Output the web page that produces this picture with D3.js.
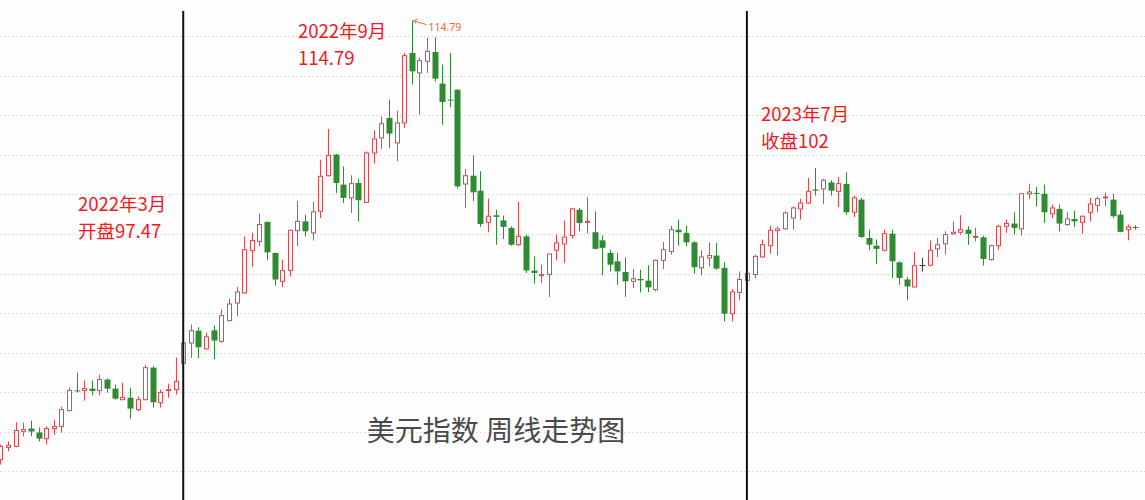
<!DOCTYPE html>
<html>
<head>
<meta charset="utf-8">
<script src="https://cdn.jsdelivr.net/npm/d3@7/dist/d3.min.js"></script>
<style>
  html, body { margin: 0; padding: 0; background: #fdfdfd; }
  svg { display: block; }
</style>
</head>
<body>
<svg id="chart" width="1145" height="500"></svg>
<script>
// Weekly US Dollar Index candles (about Sep 2021 – Jul 2024)
const openVals = [92.59,93.20,93.26,94.02,94.16,93.96,93.65,94.16,94.26,95.07,96.09,96.08,96.18,96.08,96.64,96.18,95.62,95.72,95.12,95.62,97.24,95.47,96.08,96.13,97.47,98.49,99.11,98.19,99.13,98.57,99.62,100.51,101.02,103.16,103.63,104.61,103.04,101.61,102.16,104.17,104.64,104.06,105.15,106.95,108.02,106.50,105.83,106.58,105.60,108.10,108.86,109.87,108.61,109.62,113.16,112.15,112.74,113.21,111.61,110.80,111.30,106.53,106.95,106.19,104.59,104.95,104.69,104.31,103.46,103.88,102.15,101.89,101.95,103.18,103.50,103.93,105.23,104.59,104.09,103.68,103.04,102.62,102.08,101.61,101.73,101.64,101.19,102.67,103.12,104.22,104.06,103.58,102.29,102.79,102.91,102.29,99.97,101.05,101.66,101.95,102.84,103.41,104.17,104.26,104.81,105.27,105.57,106.25,106.28,106.61,106.16,106.53,105.10,105.74,103.80,103.41,103.18,104.02,102.57,101.70,101.32,102.43,102.42,103.25,103.51,104.01,104.09,104.22,103.85,103.83,102.71,103.41,104.39,104.53,104.26,106.03,106.08,106.04,105.02,105.27,104.48,104.76,104.59,105.10,105.45,105.83,105.74,104.98,104.22,104.36];
const highVals = [93.35,93.51,94.48,94.46,94.56,94.21,94.27,94.61,95.27,96.23,96.99,96.59,96.59,96.89,96.69,96.38,96.48,96.23,95.79,97.39,97.31,96.13,96.43,97.75,98.56,99.42,99.28,99.01,99.38,100.18,100.73,101.32,103.88,104.06,105.03,104.64,103.07,102.71,104.22,105.66,104.98,105.62,107.76,109.32,108.05,107.42,106.97,106.79,108.18,109.25,109.95,110.80,110.24,113.16,114.79,112.92,113.92,113.95,112.57,113.16,111.32,107.29,107.97,107.17,105.79,105.23,104.93,104.39,105.62,103.97,102.87,102.45,102.99,103.97,104.68,105.32,105.32,105.88,105.15,103.93,103.21,103.04,102.82,102.23,102.20,102.42,102.71,103.60,104.42,104.73,104.42,103.63,103.18,103.58,103.55,102.57,101.22,102.11,102.05,102.96,103.72,104.42,104.39,105.15,105.40,105.78,106.84,107.34,106.79,106.72,106.89,107.12,105.94,105.83,104.22,103.72,104.22,104.22,102.62,101.83,103.09,102.79,103.68,103.80,104.14,104.64,104.95,104.39,104.31,103.92,103.46,104.48,104.73,105.10,106.08,106.55,106.38,106.50,105.49,105.49,105.10,105.18,104.93,105.83,105.91,106.11,106.04,105.18,104.48,104.44];
const lowVals = [92.34,93.01,93.22,93.77,93.77,93.51,93.35,93.85,93.96,95.03,95.99,95.57,95.84,95.84,95.98,95.62,95.60,94.66,95.03,95.60,95.22,95.22,95.72,95.88,97.39,97.73,97.73,98.15,97.68,98.49,99.58,99.84,100.99,102.34,103.38,102.67,101.39,101.31,101.86,103.38,103.88,103.67,104.81,106.92,106.08,105.57,105.07,104.64,105.57,107.56,108.31,108.36,107.68,109.37,111.56,110.04,112.15,111.72,109.53,110.41,106.30,105.32,105.66,104.36,104.09,103.46,103.75,103.41,103.41,102.03,101.49,101.53,100.82,102.67,102.54,103.77,104.14,104.02,103.21,101.91,102.11,101.44,100.82,101.27,101.05,101.05,101.10,102.23,102.96,103.41,103.38,101.99,101.91,102.37,102.20,99.58,99.58,100.65,101.61,101.78,102.79,103.01,102.92,104.22,104.22,104.73,105.52,105.94,105.52,105.94,105.37,104.98,104.86,103.80,103.18,102.49,103.12,101.78,101.44,100.65,101.30,102.11,102.37,102.83,102.96,103.97,103.97,103.46,103.63,102.40,102.65,103.21,104.06,103.97,103.92,105.78,105.40,104.56,104.81,104.14,104.42,104.36,104.02,104.64,105.10,105.40,104.81,104.09,103.68,104.22];
const closeVals = [93.26,93.31,94.06,94.11,94.01,93.65,94.16,94.26,95.12,96.09,96.04,96.18,96.06,96.64,96.18,95.67,95.74,95.17,95.62,97.24,95.49,95.99,96.13,96.55,98.49,99.11,98.27,98.80,98.61,99.87,100.46,101.07,103.21,103.67,104.48,103.07,101.70,102.15,104.19,104.64,104.14,105.12,106.92,107.98,106.58,105.83,106.55,105.71,108.10,108.81,109.58,109.08,109.62,113.02,112.23,112.77,113.24,111.86,110.68,110.76,106.41,106.95,106.11,104.51,104.90,104.87,104.36,103.46,103.88,102.16,102.03,101.95,102.99,103.55,103.85,105.27,104.56,104.64,103.25,103.30,102.45,102.11,101.61,101.73,101.66,101.30,102.67,103.21,104.22,104.09,103.58,102.32,102.84,102.91,102.25,99.97,101.07,101.70,102.00,102.87,103.46,104.19,104.26,105.07,105.32,105.57,106.16,106.19,106.72,106.19,106.55,105.10,105.83,103.85,103.46,103.25,104.02,102.62,101.78,101.35,102.40,102.43,103.18,103.46,103.97,104.09,104.22,104.01,103.88,102.74,103.41,104.39,104.53,104.31,106.04,106.13,106.04,105.10,105.32,104.53,104.76,104.64,104.90,105.52,105.79,105.88,104.90,104.11,104.36,104.31];

const gridTicks = [92, 94, 96, 98, 100, 102, 104, 106, 108, 110, 112, 114];
const markerIdx = [24, 98];          // 2022年3月 , 2023年7月
const peakIdx = 54;                  // 2022年9月 high
const peakLabel = "114.79";
const notes = [
  {lines: ["2022年3月", "开盘97.47"], x: 78, y: 210.5},
  {lines: ["2022年9月", "114.79"], x: 298, y: 37.5},
  {lines: ["2023年7月", "收盘102"], x: 761, y: 120.5}
];
const titleText = "美元指数 周线走势图";

const W = 1145, H = 500;
const svg = d3.select("#chart");
const n = openVals.length;
const idx = d3.range(n);

const x = d3.scaleBand().domain(idx).range([-2.1, -2.1 + 7.6 * n]).paddingInner(0.34).paddingOuter(0);
const cx = i => x(i) + x.bandwidth() / 2;
const y = d3.scaleLinear().domain([90, 116]).range([510.8, -3.2]);

const RED = "#e3474c", GREEN = "#2e8b32", FLAT = "#333";

// grid
svg.append("g").selectAll("line").data(gridTicks).join("line")
  .attr("x1", 0).attr("x2", W)
  .attr("y1", d => Math.round(y(d)) + 0.5).attr("y2", d => Math.round(y(d)) + 0.5)
  .attr("stroke", "#d4d4d4").attr("stroke-width", 1)
  .attr("stroke-dasharray", "1.5,2.5");

// candles
const g = svg.append("g");
const bw = 5;
idx.forEach(i => {
  const o = openVals[i], c = closeVals[i], h = highVals[i], l = lowVals[i];
  const col = c > o ? RED : (c < o ? GREEN : FLAT);
  const xc = Math.round(cx(i)) + 0.5;
  g.append("line").attr("x1", xc).attr("x2", xc)
    .attr("y1", y(h)).attr("y2", y(l)).attr("stroke", col).attr("stroke-width", 1);
  const top = y(Math.max(o, c)), bot = y(Math.min(o, c));
  const hgt = Math.max(1, bot - top);
  if (c > o) {
    g.append("rect").attr("x", xc - bw / 2).attr("y", top)
      .attr("width", bw - 1).attr("height", hgt)
      .attr("transform", "translate(0.5,0)")
      .attr("fill", "#ffffff").attr("stroke", col).attr("stroke-width", 1);
  } else {
    g.append("rect").attr("x", xc - bw / 2 - 0.5).attr("y", top)
      .attr("width", bw + 1).attr("height", hgt)
      .attr("fill", col);
  }
});

// vertical marker lines
svg.append("g").selectAll("line").data(markerIdx).join("line")
  .attr("x1", d => cx(d)).attr("x2", d => cx(d))
  .attr("y1", 11).attr("y2", H)
  .attr("stroke", "#111").attr("stroke-width", 2);

// peak annotation
const px = Math.round(cx(peakIdx)) + 1.5, py = y(highVals[peakIdx]);
const ORANGE = "#e8692e";
svg.append("line").attr("x1", px).attr("y1", py).attr("x2", px + 13).attr("y2", py + 4)
  .attr("stroke", ORANGE).attr("stroke-width", 1);
svg.append("path").attr("d", `M${px},${py} l4,-1.5 M${px},${py} l2.5,3`)
  .attr("stroke", ORANGE).attr("stroke-width", 1).attr("fill", "none");
svg.append("text").attr("x", px + 15).attr("y", py + 10.5)
  .attr("font-family", "'Noto Sans', 'DejaVu Sans', sans-serif").attr("font-size", 10.5)
  .attr("fill", ORANGE).text(peakLabel);

// red notes
notes.forEach(nt => {
  nt.lines.forEach((t, k) => {
    svg.append("text").attr("x", nt.x).attr("y", nt.y + k * 27)
      .attr("font-family", "'Noto Sans CJK SC', 'Noto Sans', sans-serif")
      .attr("font-size", 18.5).attr("fill", "#f01a1e").text(t);
  });
});

// title
svg.append("text").attr("x", 496).attr("y", 441).attr("text-anchor", "middle")
  .attr("font-family", "'Noto Sans CJK SC', sans-serif").attr("font-size", 28)
  .attr("fill", "#4a4a4a").text(titleText);
</script>
</body>
</html>
